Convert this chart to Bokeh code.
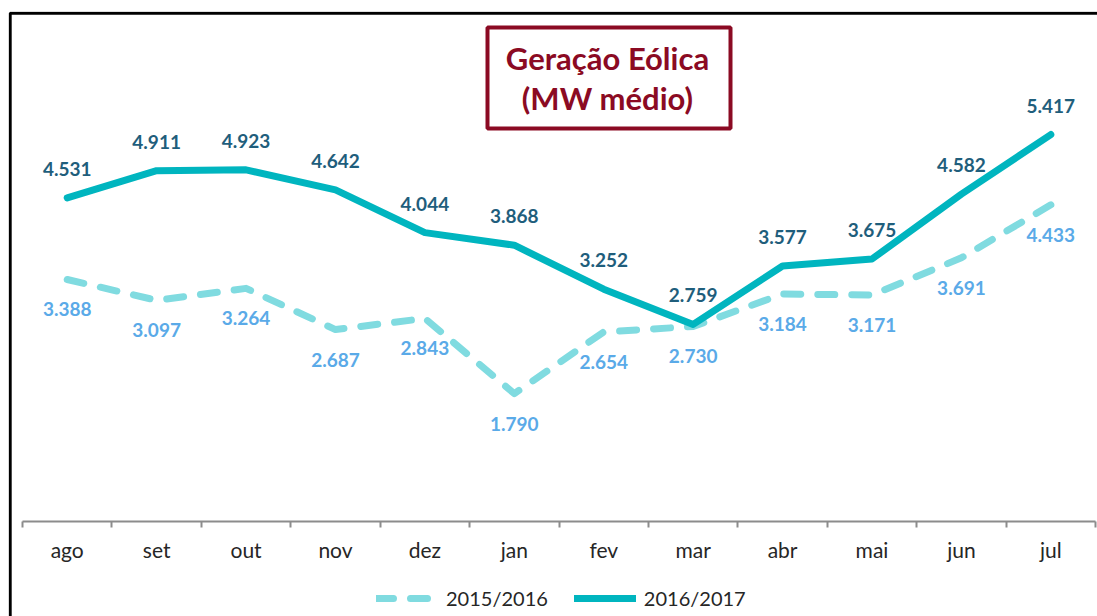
from bokeh.plotting import figure
from bokeh.models import (ColumnDataSource, LabelSet, Label, BoxAnnotation, Legend,
                          LegendItem, FixedTicker, Range1d, LinearAxis)
from bokeh.core.properties import value
from bokeh.embed import file_html
from bokeh.resources import INLINE

# ---------------- data ----------------
months = ["ago", "set", "out", "nov", "dez", "jan", "fev", "mar", "abr", "mai", "jun", "jul"]
geracao_2015_2016 = [3388, 3097, 3264, 2687, 2843, 1790, 2654, 2730, 3184, 3171, 3691, 4433]
geracao_2016_2017 = [4531, 4911, 4923, 4642, 4044, 3868, 3252, 2759, 3577, 3675, 4582, 5417]
series_names = ["2015/2016", "2016/2017"]
title_lines = ["Geração Eólica", "(MW médio)"]


def fmt(v):
    return f"{v:,}".replace(",", ".")


xs = list(range(len(months)))
src = ColumnDataSource(dict(
    x=xs,
    a=geracao_2015_2016,
    b=geracao_2016_2017,
    la=[fmt(v) for v in geracao_2015_2016],
    lb=[fmt(v) for v in geracao_2016_2017],
))

# ---------------- layout ----------------
W, H = 1097, 616
FRAME_LEFT, FRAME_TOP = 8, 11          # canvas px
AXIS_LEFT, AXIS_Y = 22, 521            # canvas px of first category boundary / zero line
CAT_PX = 89.42                         # px per category
PX_PER_UNIT = 71.43 / 1000             # px per MW

x_start = -0.5 - (AXIS_LEFT - FRAME_LEFT) / CAT_PX
x_end = -0.5 + (W - AXIS_LEFT) / CAT_PX
y_end = (AXIS_Y - FRAME_TOP) / PX_PER_UNIT
y_start = -(H - AXIS_Y) / PX_PER_UNIT

p = figure(width=W, height=H, output_backend="svg", toolbar_location=None,
           x_range=Range1d(x_start, x_end), y_range=Range1d(y_start, y_end),
           x_axis_location=None, y_axis_location=None,
           min_border_left=FRAME_LEFT, min_border_right=0,
           min_border_top=FRAME_TOP, min_border_bottom=0)
p.outline_line_color = None
p.grid.visible = False
p.background_fill_color = "white"
p.border_fill_color = "white"


def dx(canvas_x):
    return -0.5 + (canvas_x - AXIS_LEFT) / CAT_PX


def dy(canvas_y):
    return (AXIS_Y - canvas_y) / PX_PER_UNIT


# outer frame (left and top edges visible)
p.add_layout(BoxAnnotation(left=dx(9.7), right=x_end + 5, top=dy(12.8), bottom=y_start - 5000,
                           fill_alpha=0, line_color="black", line_alpha=1.0, line_width=3))

# axis at zero, categories boundaries as tick marks
ax = LinearAxis(ticker=FixedTicker(ticks=xs, minor_ticks=[i - 0.5 for i in range(len(months) + 1)]),
                major_label_overrides={i: m for i, m in enumerate(months)},
                fixed_location=0, bounds=(-0.5, len(months) - 0.5))
ax.major_tick_out = 0
ax.major_tick_in = 0
ax.minor_tick_out = 6
ax.minor_tick_in = 0
ax.minor_tick_line_color = "#8c8c8c"
ax.minor_tick_line_width = 2
ax.axis_line_color = "#8c8c8c"
ax.axis_line_width = 2
ax.major_label_text_font = "Lato"
ax.major_label_text_font_size = "21px"
ax.major_label_text_color = "#262626"
ax.major_label_standoff = 9
p.add_layout(ax, "below")

# lines
r1 = p.line("x", "a", source=src, line_color="#80DBE0", line_width=7,
            line_dash="17 17", line_cap="round", line_join="round")
r2 = p.line("x", "b", source=src, line_color="#00B5BF", line_width=7,
            line_cap="round", line_join="round")

# value labels
p.add_layout(LabelSet(x="x", y="b", text="lb", source=src, y_offset=29,
                      text_align="center", text_baseline="middle",
                      text_font=value("Lato"), text_font_style="bold",
                      text_font_size="19px", text_color="#1F5E7C"))
p.add_layout(LabelSet(x="x", y="a", text="la", source=src, y_offset=-30,
                      text_align="center", text_baseline="middle",
                      text_font=value("Lato"), text_font_style="bold",
                      text_font_size="19px", text_color="#5AAAE8"))

# title box
p.add_layout(BoxAnnotation(left=dx(487), right=dx(730), top=dy(27), bottom=dy(128),
                           fill_color="white", fill_alpha=1.0,
                           line_color="#8B0A23", line_alpha=1.0, line_width=4))
p.add_layout(Label(x=dx(607), y=dy(57), text=title_lines[0], text_align="center",
                   text_baseline="middle", text_font="Lato", text_font_style="bold",
                   text_font_size="31px", text_color="#8B0A23"))
p.add_layout(Label(x=dx(607), y=dy(97), text=title_lines[1], text_align="center",
                   text_baseline="middle", text_font="Lato", text_font_style="bold",
                   text_font_size="31px", text_color="#8B0A23"))

# legend (inside the frame, near the bottom)
legend = Legend(items=[LegendItem(label=series_names[0], renderers=[r1]),
                       LegendItem(label=series_names[1], renderers=[r2])],
                orientation="horizontal", location=(376 - FRAME_LEFT, 6),
                padding=0, margin=0, border_line_color=None, background_fill_alpha=0,
                label_text_font="Lato", label_text_font_size="20px",
                label_text_color="#262626", glyph_width=62, glyph_height=24,
                label_standoff=8, spacing=26)
p.add_layout(legend, "center")

open("out.html", "w").write(file_html(p, INLINE))
